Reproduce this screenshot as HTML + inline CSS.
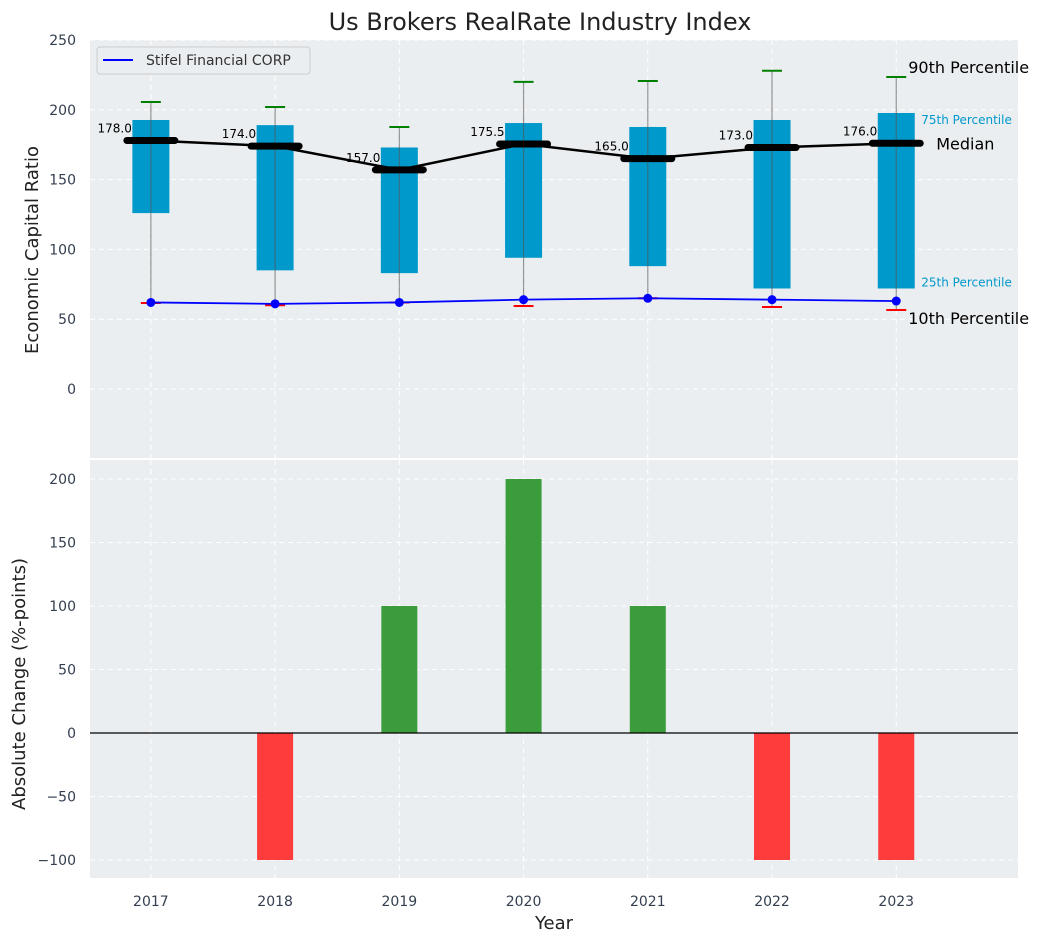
<!DOCTYPE html>
<html><head><meta charset="utf-8"><style>
body{margin:0;background:#fff;font-family:"DejaVu Sans","Liberation Sans",sans-serif;}
svg text{font-family:"DejaVu Sans","Liberation Sans",sans-serif;}
</style></head><body>
<svg id="c" width="1044" height="942" xmlns="http://www.w3.org/2000/svg"></svg>
<script>
const years=[2017,2018,2019,2020,2021,2022,2023];
const p10=[61.6,60,62,59.5,65,58.7,56.6];
const q1=[126,85,83,94,88,72,72];
const medians=[178,174,157,175.5,165,173,176];
const q3=[192.7,189,173,190.5,187.7,192.7,197.7];
const p90=[205.6,202,187.7,220,220.6,228,223.5];
const stifel=[62,61,62,64,65,64,63];
const changes=[0,-100,100,200,100,-100,-100];
const topTicks=[0,50,100,150,200,250];
const botTicks=[-100,-50,0,50,100,150,200];

const NS="http://www.w3.org/2000/svg";
const svg=document.getElementById('c');
function el(t,a,p){const e=document.createElementNS(NS,t);for(const k in a)e.setAttribute(k,a[k]);(p||svg).appendChild(e);return e;}
const L=90,R=1018;
const x=v=>L+(v-2016.51)/(2023.98-2016.51)*(R-L);
const yT=v=>389-v*1.396;
const yB=v=>733-v*1.27;

let e=el('rect',{x:L,y:40,width:R-L,height:418,fill:'#eaeef0'});

e=el('rect',{x:L,y:460,width:R-L,height:418,fill:'#eaeef0'});


topTicks.forEach(t=>{
 el('line',{x1:L,x2:R,y1:yT(t),y2:yT(t),stroke:'#fff','stroke-dasharray':'5,4','stroke-width':1});
 e=el('text',{x:L-14,y:yT(t)+5,'text-anchor':'end','font-size':14,fill:'#333f4f'});e.textContent=t;
 
});
botTicks.forEach(t=>{
 el('line',{x1:L,x2:R,y1:yB(t),y2:yB(t),stroke:'#fff','stroke-dasharray':'5,4','stroke-width':1});
 e=el('text',{x:L-14,y:yB(t)+5,'text-anchor':'end','font-size':14,fill:'#333f4f'});e.textContent=(t<0?'\u2212'+(-t):t);
 
});
years.forEach(yr=>{
 el('line',{x1:x(yr),x2:x(yr),y1:40,y2:458,stroke:'#fff','stroke-dasharray':'5,4'});
 el('line',{x1:x(yr),x2:x(yr),y1:460,y2:878,stroke:'#fff','stroke-dasharray':'5,4'});
 e=el('text',{x:x(yr),y:906,'text-anchor':'middle','font-size':14,fill:'#333f4f'});e.textContent=yr;
 
});

const bw=37;
years.forEach((yr,i)=>{
 const cx=x(yr);
 e=el('rect',{x:cx-bw/2,y:yT(q3[i]),width:bw,height:yT(q1[i])-yT(q3[i]),fill:'#0099cc'});
 
 e=el('line',{x1:cx,x2:cx,y1:yT(p10[i]),y2:yT(p90[i]),stroke:'#555','stroke-opacity':0.6,'stroke-width':1.2});
 
 e=el('line',{x1:cx-10,x2:cx+10,y1:yT(p90[i]),y2:yT(p90[i]),stroke:'green','stroke-width':2});
 
 e=el('line',{x1:cx-10,x2:cx+10,y1:yT(p10[i]),y2:yT(p10[i]),stroke:'red','stroke-width':2});
 
});
e=el('polyline',{points:years.map((yr,i)=>x(yr)+','+yT(medians[i])).join(' '),fill:'none',stroke:'#000','stroke-width':2.5});

years.forEach((yr,i)=>{
 const cx=x(yr);
 e=el('line',{x1:cx-24,x2:cx+24,y1:yT(medians[i]),y2:yT(medians[i]),stroke:'#000','stroke-width':7,'stroke-linecap':'round'});
 
 e=el('text',{x:cx-19,y:yT(medians[i])-8,'text-anchor':'end','font-size':12,fill:'#000'});e.textContent=medians[i].toFixed(1);
 
});
e=el('polyline',{points:years.map((yr,i)=>x(yr)+','+yT(stifel[i])).join(' '),fill:'none',stroke:'#0000ff','stroke-width':1.8});

years.forEach((yr,i)=>{
 e=el('circle',{cx:x(yr),cy:yT(stifel[i]),r:4.5,fill:'#0000ff'});
 
});
const lx=x(2023);
[['90th Percentile',lx+12,yT(p90[6])-4,16,'#000'],['75th Percentile',lx+25,yT(q3[6])+11,12,'#0099cc'],['Median',lx+40,yT(medians[6])+6,16,'#000'],['25th Percentile',lx+25,yT(q1[6])-2,12,'#0099cc'],['10th Percentile',lx+12,yT(p10[6])+14,16,'#000']].forEach(a=>{
 e=el('text',{x:a[1],y:a[2],'font-size':a[3],fill:a[4]});e.textContent=a[0];
 
});
const lg=el('g',{});
el('rect',{x:97,y:47,width:213,height:27,rx:3,fill:'#eaeef0',stroke:'#ccc'},lg);
el('line',{x1:103,x2:133,y1:60,y2:60,stroke:'#0000ff','stroke-width':2},lg);
e=el('text',{x:146,y:65,'font-size':14,fill:'#333'},lg);e.textContent='Stifel Financial CORP';

years.forEach((yr,i)=>{
 const v=changes[i];if(v===0)return;
 e=el('rect',{x:x(yr)-18,y:Math.min(yB(v),yB(0)),width:36,height:Math.abs(yB(v)-yB(0)),fill:v>0?'#3a9c3a':'#ff3c3c'});
 
});
el('line',{x1:L,x2:R,y1:yB(0),y2:yB(0),stroke:'#000','stroke-width':1.2});

e=el('text',{x:540,y:30,'text-anchor':'middle','font-size':24,fill:'#222'});e.textContent='Us Brokers RealRate Industry Index';

e=el('text',{x:0,y:0,'text-anchor':'middle','font-size':18,fill:'#222',transform:'translate(38,250) rotate(-90)'});e.textContent='Economic Capital Ratio';

e=el('text',{x:0,y:0,'text-anchor':'middle','font-size':18,fill:'#222',transform:'translate(25,684) rotate(-90)'});e.textContent='Absolute Change (%-points)';

e=el('text',{x:554,y:929,'text-anchor':'middle','font-size':18,fill:'#222'});e.textContent='Year';

</script>
</body></html>
